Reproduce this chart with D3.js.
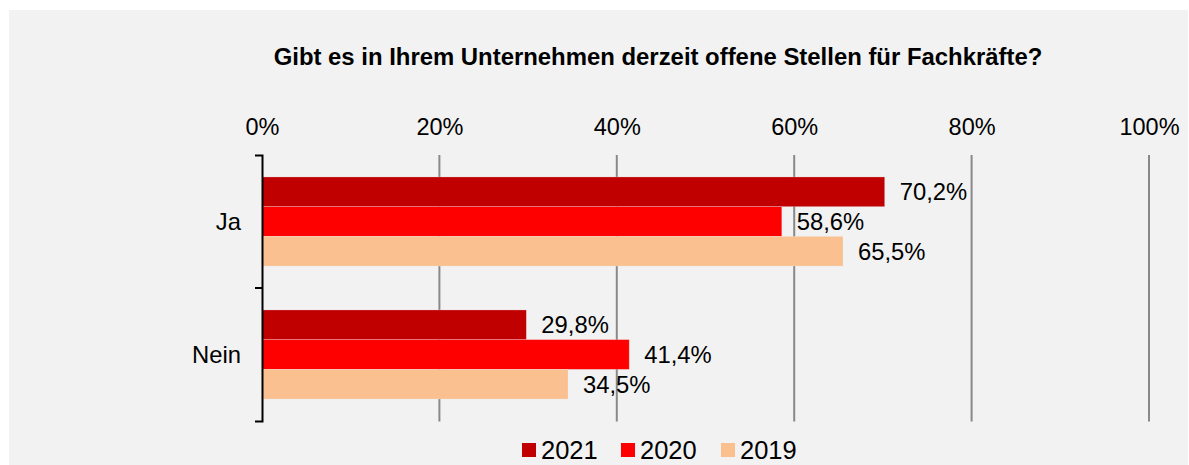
<!DOCTYPE html>
<html><head><meta charset="utf-8">
<script src="https://cdn.jsdelivr.net/npm/d3@7"></script>
<style>body{margin:0;background:#fff}svg{display:block}text{font-family:"Liberation Sans",Arial,sans-serif}</style>
</head><body><svg id="c" width="1189" height="465"></svg>
<script>
const categories = ["Ja", "Nein"];
const seriesNames = ["2021", "2020", "2019"];
const values2021 = [70.2, 29.8];
const values2020 = [58.6, 41.4];
const values2019 = [65.5, 34.5];
const tickValues = [0, 20, 40, 60, 80, 100];
const colors = ["#C00000", "#FF0000", "#FAC090"];
const title = "Gibt es in Ihrem Unternehmen derzeit offene Stellen für Fachkräfte?";

const series = [values2021, values2020, values2019];
const svg = d3.select("#c");
svg.append("rect").attr("x", 9).attr("y", 10).attr("width", 1179).attr("height", 455).attr("fill", "#F2F2F2");

svg.append("text").attr("x", 658).attr("y", 65).attr("text-anchor", "middle")
  .attr("font-weight", "bold").attr("font-size", 23.9).attr("fill", "#000").text(title);

const x = d3.scaleLinear().domain([0, 100]).range([262, 1149]);
const y = d3.scaleBand().domain(categories).range([155, 421]).paddingInner(0).paddingOuter(0);
const inner = d3.scaleBand().domain(seriesNames).range([0, y.bandwidth()]).paddingInner(0).paddingOuter(0.74);

// gridlines
svg.append("g").selectAll("line").data(tickValues.filter(d => d > 0)).join("line")
  .attr("x1", d => x(d)).attr("x2", d => x(d)).attr("y1", 155).attr("y2", 421.5)
  .attr("stroke", "#898989").attr("stroke-width", 2);

// top tick labels
const xAxis = svg.append("g").attr("transform", "translate(0,135)")
  .call(d3.axisTop(x).tickValues(tickValues).tickSize(0).tickPadding(0).tickFormat(d => d + "%"));
xAxis.select(".domain").remove();
xAxis.selectAll("text").attr("font-size", 23.5).attr("fill", "#000").attr("font-family", "Liberation Sans, Arial, sans-serif");

// bars
categories.forEach((c, ci) => {
  seriesNames.forEach((s, si) => {
    const v = series[si][ci];
    svg.append("rect").attr("x", x(0)).attr("y", y(c) + inner(s))
      .attr("width", x(v) - x(0)).attr("height", inner.bandwidth())
      .attr("fill", colors[si]).attr("stroke", "#f2f2f2").attr("stroke-opacity", 0.35).attr("stroke-width", 0.7);
    svg.append("text").attr("x", x(v) + 15).attr("y", y(c) + inner(s) + inner.bandwidth() / 2)
      .attr("dy", "0.35em").attr("font-size", 23.8).attr("fill", "#000")
      .text(v.toFixed(1).replace(".", ",") + "%");
  });
});

// left axis
const yAxis = svg.append("g").attr("transform", "translate(262,0)")
  .call(d3.axisLeft(y).tickValues([]).tickSizeOuter(7));
yAxis.select(".domain").attr("stroke", "#000").attr("stroke-width", 2);
svg.append("g").selectAll("line").data(categories.slice(1)).join("line")
  .attr("x1", 255).attr("x2", 262).attr("y1", d => y(d)).attr("y2", d => y(d))
  .attr("stroke", "#000").attr("stroke-width", 2);
svg.append("g").selectAll("text").data(categories).join("text")
  .attr("x", 241).attr("y", d => y(d) + y.bandwidth() / 2).attr("dy", "0.35em")
  .attr("text-anchor", "end").attr("font-size", 23.8).attr("fill", "#000").text(d => d);

// legend
const legendX = [522, 621, 721];
const lg = svg.append("g").selectAll("g").data(seriesNames).join("g")
  .attr("transform", (d, i) => `translate(${legendX[i]},443)`);
lg.append("rect").attr("width", 14).attr("height", 14).attr("fill", (d, i) => colors[i]);
lg.append("text").attr("x", 19).attr("y", 7).attr("dy", "0.36em").attr("font-size", 25.5).attr("fill", "#000").text(d => d);
</script></body></html>
